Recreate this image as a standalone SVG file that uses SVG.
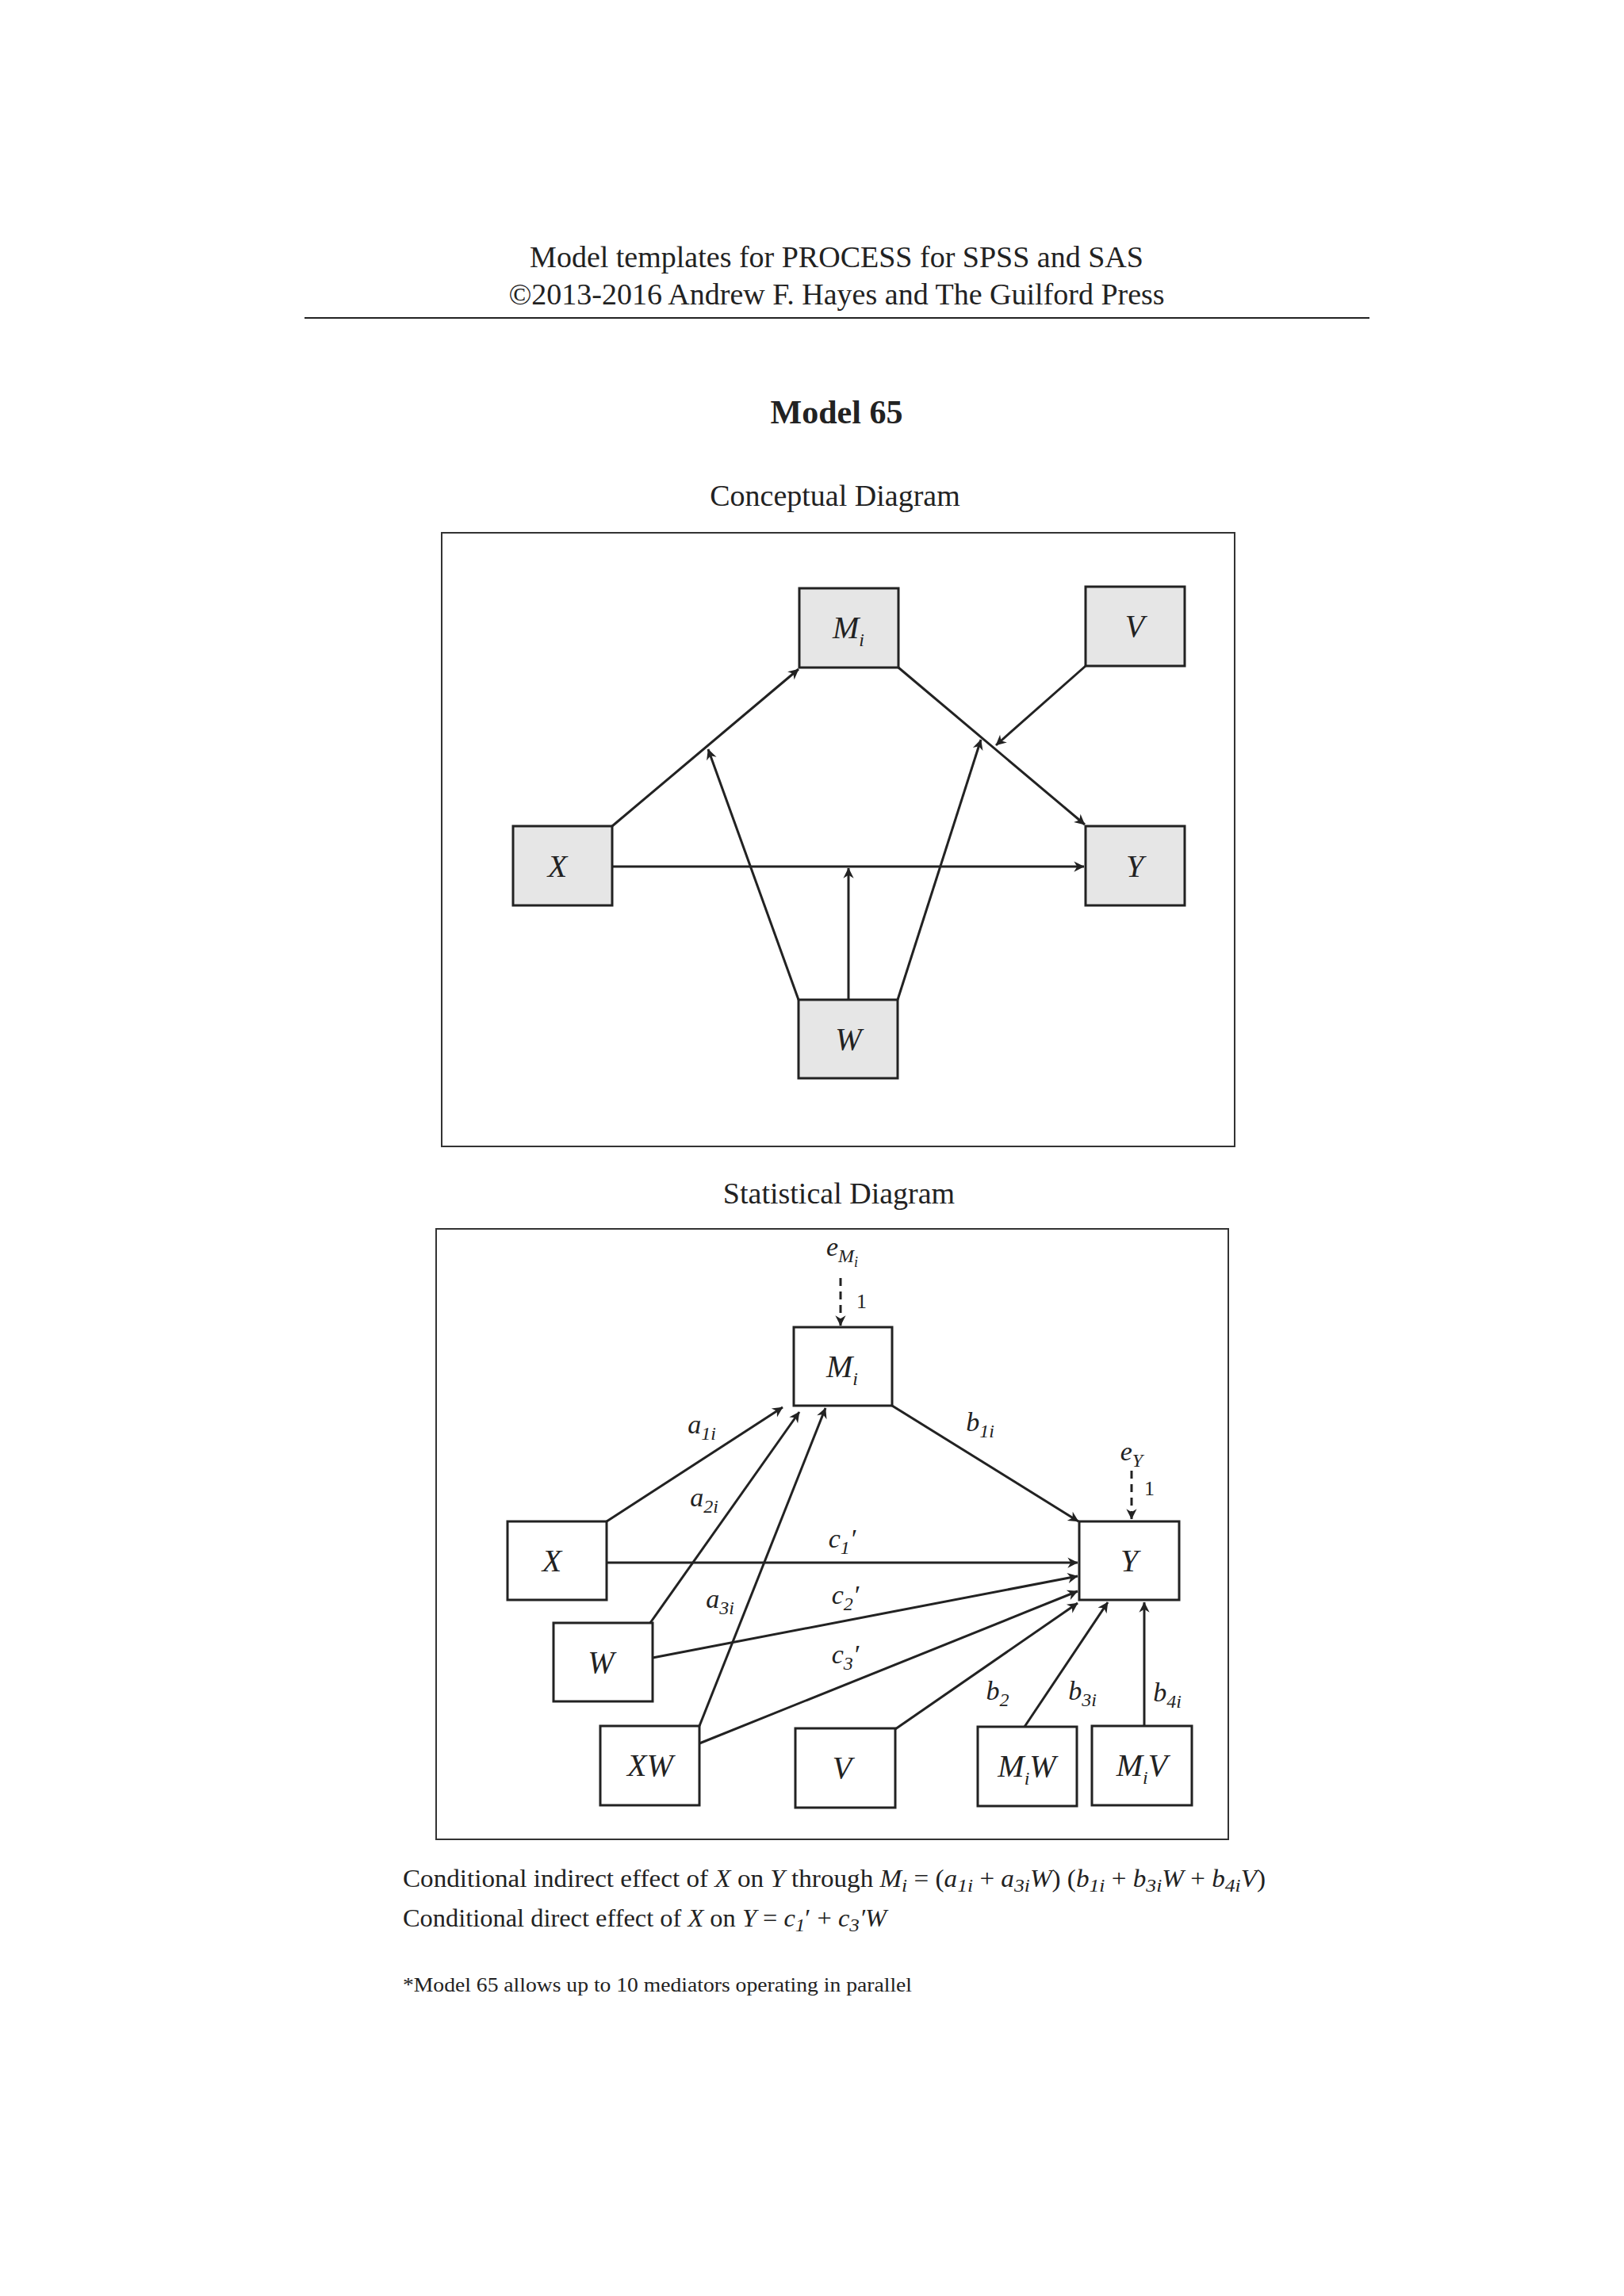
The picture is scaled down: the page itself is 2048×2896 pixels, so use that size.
<svg xmlns="http://www.w3.org/2000/svg" width="2048" height="2896" viewBox="0 0 2048 2896">
<style>
text{font-family:"Liberation Serif","DejaVu Serif",serif;fill:#222}
.t{font-size:38px;text-anchor:middle}
.n{font-size:40px;font-style:italic;text-anchor:middle}
.l{font-size:34px;font-style:italic;text-anchor:middle}
.s{font-size:24px}
.g{fill:#e6e6e6;stroke:#222;stroke-width:3}
.w{fill:#fff;stroke:#222;stroke-width:3}
.e{stroke:#222;stroke-width:3;fill:none;marker-end:url(#a)}
.d{stroke:#222;stroke-width:3;fill:none;stroke-dasharray:10 7;marker-end:url(#a)}
.fr{fill:none;stroke:#333;stroke-width:2}
</style>
<defs><marker id="a" viewBox="0 0 10 10" refX="9" refY="5" markerWidth="6" markerHeight="6" orient="auto" markerUnits="userSpaceOnUse" style="overflow:visible"><path d="M0,0 L10,5 L0,10 L3,5 Z" fill="#222" transform="scale(2.2) translate(-5.5,-2.7)"/></marker></defs>
<rect width="2048" height="2896" fill="#fff"/>
<text class="t" x="1055" y="337">Model templates for PROCESS for SPSS and SAS</text>
<text class="t" x="1055" y="384">©2013-2016 Andrew F. Hayes and The Guilford Press</text>
<line x1="384" y1="401" x2="1727" y2="401" stroke="#222" stroke-width="2"/>
<text x="1055" y="534" style="font-size:42px;font-weight:bold;text-anchor:middle">Model 65</text>
<text class="t" x="1053" y="638">Conceptual Diagram</text>
<text class="t" x="1058" y="1518">Statistical Diagram</text>
<rect class="fr" x="557" y="672" width="1000" height="774"/>
<rect class="fr" x="550" y="1550" width="999" height="770"/>
<g id="connectors">
<line class="e" x1="772" y1="1042" x2="1007" y2="844"/>
<line class="e" x1="1133" y1="842" x2="1368" y2="1040"/>
<line class="e" x1="1369" y1="840" x2="1256" y2="940"/>
<line class="e" x1="772" y1="1093" x2="1367" y2="1093"/>
<line class="e" x1="1007" y1="1261" x2="893" y2="945"/>
<line class="e" x1="1070" y1="1261" x2="1070" y2="1095"/>
<line class="e" x1="1132" y1="1261" x2="1237" y2="933"/>
<line class="d" x1="1060" y1="1612" x2="1060" y2="1672"/>
<line class="d" x1="1427" y1="1855" x2="1427" y2="1916"/>
<line class="e" x1="765" y1="1919" x2="987" y2="1775"/>
<line class="e" x1="820" y1="2047" x2="1008" y2="1781"/>
<line class="e" x1="882" y1="2177" x2="1041" y2="1776"/>
<line class="e" x1="1125" y1="1773" x2="1360" y2="1919"/>
<line class="e" x1="765" y1="1971" x2="1359" y2="1971"/>
<line class="e" x1="823" y1="2091" x2="1359" y2="1988"/>
<line class="e" x1="882" y1="2199" x2="1359" y2="2007"/>
<line class="e" x1="1129" y1="2181" x2="1359" y2="2022"/>
<line class="e" x1="1292" y1="2178" x2="1397" y2="2021"/>
<line class="e" x1="1443" y1="2177" x2="1443" y2="2021"/>
</g>
<g id="c_Mi"><rect class="g" x="1008" y="742" width="125" height="100"/><text class="n" x="1070" y="805">M<tspan class="s" dy="10">i</tspan></text></g>
<g id="c_V"><rect class="g" x="1369" y="740" width="125" height="100"/><text class="n" x="1431" y="803">V</text></g>
<g id="c_X"><rect class="g" x="647" y="1042" width="125" height="100"/><text class="n" x="703" y="1106">X</text></g>
<g id="c_Y"><rect class="g" x="1369" y="1042" width="125" height="100"/><text class="n" x="1431" y="1106">Y</text></g>
<g id="c_W"><rect class="g" x="1007" y="1261" width="125" height="99"/><text class="n" x="1070" y="1324">W</text></g>
<g id="eMi"><text class="l" x="1062" y="1584">e<tspan class="s" dy="8">M</tspan><tspan style="font-size:18px" dy="6">i</tspan></text><text x="1080" y="1650" style="font-size:26px">1</text></g>
<g id="eY"><text class="l" x="1427" y="1842">e<tspan class="s" dy="8">Y</tspan></text><text x="1443" y="1886" style="font-size:26px">1</text></g>
<g id="s_Mi"><rect class="w" x="1001" y="1674" width="124" height="99"/><text class="n" x="1062" y="1737">M<tspan class="s" dy="10">i</tspan></text></g>
<g id="s_X"><rect class="w" x="640" y="1919" width="125" height="99"/><text class="n" x="696" y="1982">X</text></g>
<g id="s_Y"><rect class="w" x="1361" y="1919" width="126" height="99"/><text class="n" x="1424" y="1982">Y</text></g>
<g id="s_W"><rect class="w" x="698" y="2047" width="125" height="99"/><text class="n" x="758" y="2110">W</text></g>
<g id="s_XW"><rect class="w" x="757" y="2177" width="125" height="100"/><text class="n" x="820" y="2240">XW</text></g>
<g id="s_V"><rect class="w" x="1003" y="2180" width="126" height="100"/><text class="n" x="1062" y="2243">V</text></g>
<g id="s_MiW"><rect class="w" x="1233" y="2178" width="125" height="100"/><text class="n" x="1295" y="2241">M<tspan class="s" dy="10">i</tspan><tspan dy="-10">W</tspan></text></g>
<g id="s_MiV"><rect class="w" x="1377" y="2177" width="126" height="100"/><text class="n" x="1440" y="2240">M<tspan class="s" dy="10">i</tspan><tspan dy="-10">V</tspan></text></g>
<g id="labels">
<text class="l" x="885" y="1808">a<tspan class="s" dy="8">1i</tspan></text>
<text class="l" x="888" y="1900">a<tspan class="s" dy="8">2i</tspan></text>
<text class="l" x="908" y="2028">a<tspan class="s" dy="8">3i</tspan></text>
<text class="l" x="1236" y="1805">b<tspan class="s" dy="8">1i</tspan></text>
<text class="l" x="1062" y="1952">c<tspan class="s" dy="8">1</tspan><tspan dy="-8">′</tspan></text>
<text class="l" x="1066" y="2023">c<tspan class="s" dy="8">2</tspan><tspan dy="-8">′</tspan></text>
<text class="l" x="1066" y="2098">c<tspan class="s" dy="8">3</tspan><tspan dy="-8">′</tspan></text>
<text class="l" x="1258" y="2144">b<tspan class="s" dy="8">2</tspan></text>
<text class="l" x="1365" y="2144">b<tspan class="s" dy="8">3i</tspan></text>
<text class="l" x="1472" y="2146">b<tspan class="s" dy="8">4i</tspan></text>
</g>
<text x="508" y="2380" style="font-size:31px" textLength="1088" lengthAdjust="spacingAndGlyphs">Conditional indirect effect of <tspan font-style="italic">X</tspan> on <tspan font-style="italic">Y</tspan> through <tspan font-style="italic">M<tspan class="s" dy="6">i</tspan></tspan><tspan dy="-6"> = (</tspan><tspan font-style="italic">a<tspan class="s" dy="6">1i</tspan></tspan><tspan dy="-6"> + </tspan><tspan font-style="italic">a<tspan class="s" dy="6">3i</tspan><tspan dy="-6">W</tspan></tspan>) (<tspan font-style="italic">b<tspan class="s" dy="6">1i</tspan></tspan><tspan dy="-6"> + </tspan><tspan font-style="italic">b<tspan class="s" dy="6">3i</tspan><tspan dy="-6">W</tspan></tspan> + <tspan font-style="italic">b<tspan class="s" dy="6">4i</tspan><tspan dy="-6">V</tspan></tspan>)</text>
<text x="508" y="2430" style="font-size:31px" textLength="610" lengthAdjust="spacingAndGlyphs">Conditional direct effect of <tspan font-style="italic">X</tspan> on <tspan font-style="italic">Y</tspan> = <tspan font-style="italic">c<tspan class="s" dy="6">1</tspan></tspan><tspan dy="-6">′ + </tspan><tspan font-style="italic">c<tspan class="s" dy="6">3</tspan><tspan dy="-6">′W</tspan></tspan></text>
<text x="508" y="2512" style="font-size:26px" textLength="642" lengthAdjust="spacingAndGlyphs">*Model 65 allows up to 10 mediators operating in parallel</text>
</svg>
